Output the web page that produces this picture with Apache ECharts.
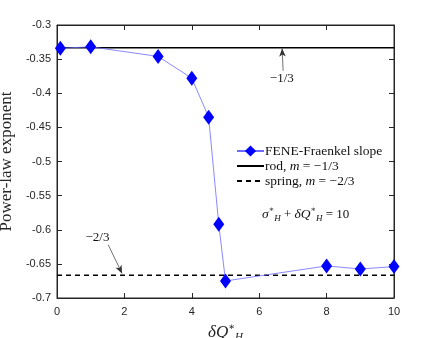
<!DOCTYPE html>
<html><head><meta charset="utf-8">
<script src="https://cdn.jsdelivr.net/npm/echarts@6/dist/echarts.min.js"></script>
<style>html,body{margin:0;padding:0;background:#fff}#c{width:436px;height:338px}</style>
</head><body><div id="c"></div>
<script>
const xVals = [0.1, 1, 3, 4, 4.5, 4.8, 5, 8, 9, 10];
const slopeVals = [-0.334, -0.332, -0.346, -0.378, -0.435, -0.592, -0.675, -0.653, -0.6575, -0.654];
const rodX = [0, 10];
const rodM = -1/3;
const springX = [0, 10];
const springM = -2/3;
const xTicks = [0, 2, 4, 6, 8, 10];
const yTicks = [-0.7, -0.65, -0.6, -0.55, -0.5, -0.45, -0.4, -0.35, -0.3];

const serif = '"Liberation Serif","DejaVu Serif",serif';
const sans = '"Liberation Sans","DejaVu Sans",sans-serif';
const chart = echarts.init(document.getElementById('c'));
const axisCommon = {
  axisLine: {show: true, onZero: false, lineStyle: {color: '#262626', width: 1}},
  axisTick: {show: true, inside: true, length: 5, lineStyle: {color: '#262626'}},
  splitLine: {show: false}
};
const fmtY = v => String(parseFloat(v.toFixed(2)));
chart.setOption({
  animation: false,
  grid: {left: 57, right: 42, top: 25, bottom: 40, outerBoundsMode: 'none', containLabel: false,
    show: true, borderColor: '#262626', borderWidth: 1, backgroundColor: 'transparent'},
  xAxis: [
    Object.assign({type: 'value', min: xTicks[0], max: xTicks[xTicks.length-1], interval: 2,
      axisLabel: {color: '#262626', fontSize: 11, fontFamily: sans, margin: 8},
      name: '{i|δQ}{s|∗}{b|H}', nameLocation: 'middle', nameGap: 20,
      nameTextStyle: {rich: {
        i: {fontFamily: serif, fontStyle: 'italic', fontSize: 17, color: '#262626'},
        s: {fontFamily: serif, fontSize: 10, color: '#262626', verticalAlign: 'top', padding: [0,0,10,0]},
        b: {fontFamily: serif, fontStyle: 'italic', fontSize: 11, color: '#262626', padding: [10,0,0,0]}
      }}}, axisCommon),
    Object.assign({type: 'value', position: 'top', min: 0, max: 10, interval: 2, axisLabel: {show: false}}, axisCommon)
  ],
  yAxis: [
    Object.assign({type: 'value', min: yTicks[0], max: yTicks[yTicks.length-1], interval: 0.05,
      axisLabel: {color: '#262626', fontSize: 11, fontFamily: sans, formatter: fmtY, margin: 6},
      name: 'Power-law exponent', nameLocation: 'middle', nameGap: 36,
      nameTextStyle: {fontFamily: serif, fontSize: 17, color: '#262626'}}, axisCommon),
    Object.assign({type: 'value', position: 'right', min: -0.7, max: -0.3, interval: 0.05, axisLabel: {show: false}}, axisCommon)
  ],
  legend: {
    orient: 'vertical', left: 231, top: 139, itemWidth: 27, itemHeight: 14, itemGap: 1,
    data: [
      {name: 'FENE-Fraenkel slope'},
      {name: 'rod, {i|m} = −1/3', itemStyle: {color: 'transparent', borderWidth: 0}},
      {name: 'spring, {i|m} = −2/3', itemStyle: {color: 'transparent', borderWidth: 0}}
    ],
    textStyle: {fontFamily: serif, fontSize: 13.5, color: '#111', padding: [0,0,0,-4],
      rich: {i: {fontFamily: serif, fontStyle: 'italic', fontSize: 13.5, color: '#111'}}}
  },
  series: [
    {name: 'rod, {i|m} = −1/3', type: 'line', data: rodX.map(x => [x, rodM]), showSymbol: false, symbol: 'none',
      lineStyle: {color: '#000', width: 1.5}, itemStyle: {color: '#000'}, z: 2},
    {name: 'spring, {i|m} = −2/3', type: 'line', data: springX.map(x => [x, springM]), showSymbol: false, symbol: 'none',
      lineStyle: {color: '#000', width: 1.5, type: [5, 4]}, itemStyle: {color: '#000'}, z: 2},
    {name: 'FENE-Fraenkel slope', type: 'line', data: xVals.map((x, i) => [x, slopeVals[i]]),
      symbol: 'diamond', symbolSize: [11, 15], itemStyle: {color: '#0000ff'},
      lineStyle: {color: '#6b6bff', width: 0.8}, z: 3},
    {type: 'line', data: [], markLine: {silent: true, symbol: ['none', 'arrow'], symbolSize: [5, 8],
      lineStyle: {color: '#333', width: 0.7, type: 'solid'}, label: {show: false},
      data: [
        [{coord: [6.71, -0.367]}, {coord: [6.68, -0.3345]}],
        [{coord: [1.52, -0.622]}, {coord: [1.93, -0.664]}]
      ]}}
  ]
});
function place() {
  const p1 = chart.convertToPixel({xAxisIndex: 0, yAxisIndex: 0}, [6.67, -0.378]);
  const p2 = chart.convertToPixel({xAxisIndex: 0, yAxisIndex: 0}, [1.2, -0.611]);
  const p3 = chart.convertToPixel({xAxisIndex: 0, yAxisIndex: 0}, [7.38, -0.578]);
  const st = {fontFamily: serif, fontSize: 13, fill: '#111', align: 'center', verticalAlign: 'middle'};
  const rich = {
    i: {fontFamily: serif, fontStyle: 'italic', fontSize: 13.5, color: '#111'},
    s: {fontFamily: serif, fontSize: 8, color: '#111', verticalAlign: 'top', padding: [0,0,8,0]},
    b: {fontFamily: serif, fontStyle: 'italic', fontSize: 9, color: '#111', padding: [8,0,0,0]}
  };
  chart.setOption({graphic: [
    {type: 'text', x: p1[0], y: p1[1], style: Object.assign({text: '−1/3'}, st)},
    {type: 'text', x: p2[0], y: p2[1], style: Object.assign({text: '−2/3'}, st)},
    {type: 'text', x: p3[0], y: p3[1], style: Object.assign({text: '{i|σ}{s|∗}{b|H} + {i|δQ}{s|∗}{b|H} = 10', rich: rich}, st)}
  ]});
}
place();
</script>
</body></html>
